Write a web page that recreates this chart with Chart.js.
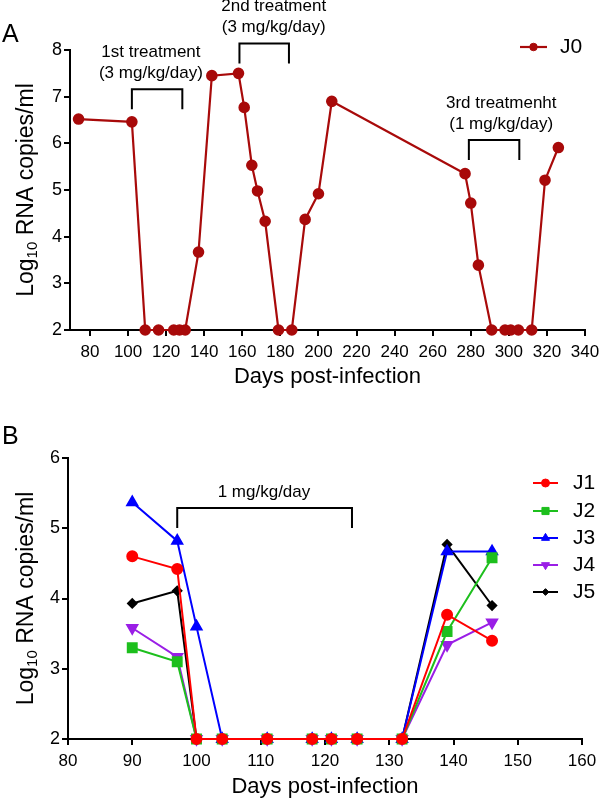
<!DOCTYPE html>
<html>
<head>
<meta charset="utf-8">
<script src="https://cdn.jsdelivr.net/npm/chart.js@4.4.1/dist/chart.umd.min.js"></script>
<style>
  body { margin: 0; background: #fff; }
  .panel { position: absolute; left: 0; width: 600px; height: 400px; }
</style>
</head>
<body>
<div class="panel" style="top:0"><canvas id="chartA" width="600" height="400"></canvas></div>
<div class="panel" style="top:400px"><canvas id="chartB" width="600" height="400"></canvas></div>
<script>
const FONT = '"Liberation Sans", Arial, Helvetica, sans-serif';

// ---------- panel A (J0)
const daysA = [74, 102, 109, 116, 124, 127, 130, 137, 144, 158, 161, 165, 168, 172, 179, 186, 193, 200, 207, 277, 280, 284, 291, 298, 301, 305, 312, 319, 326];
const rnaA = [6.52, 6.46, 2, 2, 2, 2, 2, 3.67, 7.45, 7.5, 6.77, 5.53, 4.98, 4.33, 2, 2, 4.37, 4.92, 6.9, 5.35, 4.72, 3.39, 2, 2, 2, 2, 2, 5.21, 5.91];
const xTicksA = [80, 100, 120, 140, 160, 180, 200, 220, 240, 260, 280, 300, 320, 340];
const yTicksA = [2, 3, 4, 5, 6, 7, 8];

const treatStartA = [102, 158.5, 279];
const treatEndA = [128.5, 184.5, 305.5];
const treatLevelA = [7.16, 8.14, 6.07];
const treatTextA = [['1st treatment', '(3 mg/kg/day)'], ['2nd treatment', '(3 mg/kg/day)'], ['3rd treatmenht', '(1 mg/kg/day)']];
const treatTextDayA = [112, 176.5, 296];

// ---------- panel B (J1-J5)
const daysB = [90, 97, 100, 104, 111, 118, 121, 125, 132, 139, 146];
const namesB = ['J1', 'J2', 'J3', 'J4', 'J5'];
const rnaJ1 = [4.60, 4.42, 2, 2, 2, 2, 2, 2, 2, 3.77, 3.40];
const rnaJ2 = [3.30, 3.10, 2, 2, 2, 2, 2, 2, 2, 3.53, 4.58];
const rnaJ3 = [5.37, 4.82, 3.60, 2, 2, 2, 2, 2, 2, 4.67, 4.67];
const rnaJ4 = [3.58, 3.17, 2, 2, 2, 2, 2, 2, 2, 3.34, 3.66];
const rnaJ5 = [3.93, 4.11, 2, 2, 2, 2, 2, 2, 2, 4.77, 3.90];
const xTicksB = [80, 90, 100, 110, 120, 130, 140, 150, 160];
const yTicksB = [2, 3, 4, 5, 6];

const treatStartB = [97];
const treatEndB = [124.2];
const treatLevelB = [5.29];
const treatTextB = [['1 mg/kg/day']];
const treatTextDayB = [110.5];

// styles
const colorsB = ['#FF0000', '#1DBF1D', '#0000FF', '#9A1EE6', '#000000'];
const shapesB = ['circle', 'rect', 'triangle', 'triangle', 'rectRot'];
const rotationB = [0, 0, 0, 180, 0];
const radiusB = [5, 6.3, 5.8, 5.8, 4.2];

function toPoints(xs, ys) {
    return xs.map((x, i) => ({ x: x, y: ys[i] }));
}

function axis(min, max, tickValues, boxSize, isX) {
    return {
        type: 'linear',
        min: min,
        max: max,
        afterBuildTicks: (scale) => { scale.ticks = tickValues.map(v => ({ value: v })); },
        afterFit: (scale) => {
            if (isX) scale.height = boxSize; else scale.width = boxSize;
            scale.paddingLeft = 0; scale.paddingRight = 0;
            scale.paddingTop = 0; scale.paddingBottom = 0;
        },
        border: { display: true, color: '#000', width: 2 },
        grid: { drawOnChartArea: false, drawTicks: true, tickLength: 6, color: '#000', lineWidth: 2 },
        ticks: { color: '#000', font: { size: isX ? 17 : 18, family: FONT }, padding: isX ? 6 : 2, autoSkip: false, maxRotation: 0 }
    };
}

function bracketPlugin(start, end, level, texts, textDay) {
    return {
        id: 'brackets',
        afterDatasetsDraw(chart) {
            const ctx = chart.ctx, xs = chart.scales.x, ys = chart.scales.y;
            ctx.save();
            ctx.strokeStyle = '#000';
            ctx.lineWidth = 2;
            ctx.fillStyle = '#000';
            ctx.font = '17px ' + FONT;
            ctx.textAlign = 'center';
            ctx.textBaseline = 'middle';
            for (let i = 0; i < start.length; i++) {
                const x0 = xs.getPixelForValue(start[i]);
                const x1 = xs.getPixelForValue(end[i]);
                const y = ys.getPixelForValue(level[i]);
                ctx.beginPath();
                ctx.moveTo(x0, y + 20);
                ctx.lineTo(x0, y);
                ctx.lineTo(x1, y);
                ctx.lineTo(x1, y + 20);
                ctx.stroke();
                const tx = xs.getPixelForValue(textDay[i]);
                const lines = texts[i];
                lines.forEach((t, k) => ctx.fillText(t, tx, y - 16 - (lines.length - 1 - k) * 21));
            }
            ctx.restore();
        }
    };
}

function framePlugin(letter, letterY, xTitleOffset) {
    return {
        id: 'frame',
        afterDraw(chart) {
            const ctx = chart.ctx, area = chart.chartArea;
            ctx.save();
            ctx.fillStyle = '#000';
            // panel letter
            ctx.font = '25px ' + FONT;
            ctx.textAlign = 'left';
            ctx.textBaseline = 'middle';
            ctx.fillText(letter, 2, letterY);
            // x title
            ctx.font = '22px ' + FONT;
            ctx.textAlign = 'center';
            ctx.fillText('Days post-infection', (area.left + area.right) / 2, area.bottom + xTitleOffset);
            // y title with subscript
            const big = '23px ' + FONT, small = '15px ' + FONT;
            ctx.translate(27, (area.top + area.bottom) / 2);
            ctx.rotate(-Math.PI / 2);
            ctx.textAlign = 'left';
            ctx.font = big;
            const w1 = ctx.measureText('Log').width;
            const w3 = ctx.measureText(' RNA copies/ml').width;
            ctx.font = small;
            const w2 = ctx.measureText('10').width;
            let x = -(w1 + w2 + w3) / 2;
            ctx.font = big; ctx.fillText('Log', x, 0); x += w1;
            ctx.font = small; ctx.fillText('10', x, 6); x += w2;
            ctx.font = big; ctx.fillText(' RNA copies/ml', x, 0);
            ctx.restore();
        }
    };
}

function legendPlugin(rowsY, x0, x1, tx) {
    return {
        id: 'legendLines',
        afterDraw(chart) {
            const ctx = chart.ctx;
            chart.data.datasets.forEach((ds, i) => {
                const y = rowsY[i];
                ctx.save();
                ctx.strokeStyle = ds.borderColor;
                ctx.lineWidth = ds.borderWidth;
                ctx.beginPath();
                ctx.moveTo(x0, y);
                ctx.lineTo(x1, y);
                ctx.stroke();
                ctx.fillStyle = ds.pointBackgroundColor;
                ctx.lineWidth = 1;
                Chart.helpers.drawPoint(ctx, {
                    pointStyle: ds.pointStyle, radius: ds.pointRadius * 0.8,
                    rotation: ds.pointRotation || 0, borderWidth: 1
                }, (x0 + x1) / 2, y);
                ctx.fillStyle = '#000';
                ctx.font = '21px ' + FONT;
                ctx.textAlign = 'left';
                ctx.textBaseline = 'middle';
                ctx.fillText(ds.label, tx, y);
                ctx.restore();
            });
        }
    };
}

Chart.defaults.font.family = FONT;

// ********************************************************************

const chartA = new Chart(document.getElementById('chartA'), {
    type: 'line',
    data: {
        datasets: [{
            label: 'J0',
            data: toPoints(daysA, rnaA),
            borderColor: '#A80A0A',
            backgroundColor: '#A80A0A',
            pointBackgroundColor: '#A80A0A',
            pointBorderColor: '#A80A0A',
            borderWidth: 2.2,
            pointRadius: 4.7,
            pointStyle: 'circle',
            tension: 0,
            clip: false
        }]
    },
    options: {
        responsive: false,
        animation: false,
        layout: { autoPadding: false, padding: { left: 0, right: 15, top: 50, bottom: 0 } },
        plugins: { legend: { display: false }, tooltip: { enabled: false } },
        scales: {
            x: axis(69.5, 340, xTicksA, 70, true),
            y: axis(2, 8, yTicksA, 70, false)
        }
    },
    plugins: [
        bracketPlugin(treatStartA, treatEndA, treatLevelA, treatTextA, treatTextDayA),
        framePlugin('A', 35, 47),
        legendPlugin([47], 520, 547, 560)
    ]
});

// ********************************************************************

const rnaB = [rnaJ1, rnaJ2, rnaJ3, rnaJ4, rnaJ5];

const chartB = new Chart(document.getElementById('chartB'), {
    type: 'line',
    data: {
        datasets: namesB.map((name, i) => ({
            label: name,
            data: toPoints(daysB, rnaB[i]),
            borderColor: colorsB[i],
            backgroundColor: colorsB[i],
            pointBackgroundColor: colorsB[i],
            pointBorderColor: colorsB[i],
            borderWidth: 2,
            pointRadius: radiusB[i],
            pointStyle: shapesB[i],
            pointRotation: rotationB[i],
            tension: 0,
            clip: false
        }))
    },
    options: {
        responsive: false,
        animation: false,
        layout: { autoPadding: false, padding: { left: 0, right: 18, top: 58, bottom: 0 } },
        plugins: { legend: { display: false }, tooltip: { enabled: false } },
        scales: {
            x: axis(80, 160, xTicksB, 61, true),
            y: axis(2, 6, yTicksB, 68, false)
        }
    },
    plugins: [
        bracketPlugin(treatStartB, treatEndB, treatLevelB, treatTextB, treatTextDayB),
        framePlugin('B', 37, 48),
        legendPlugin([83, 111, 138, 165, 192], 533, 558, 573)
    ]
});
</script>
</body>
</html>
